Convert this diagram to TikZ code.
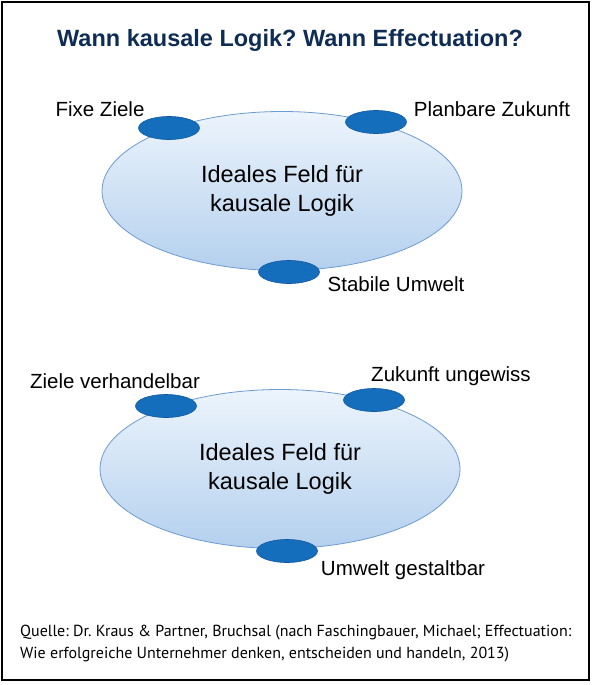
\documentclass[tikz,border=0pt]{standalone}
\usepackage{fontspec}
\setmainfont{Liberation Sans}
\newfontfamily\quellefont{PT Sans}
\usetikzlibrary{shapes.geometric}

\definecolor{titelblau}{RGB}{14,44,84}
\definecolor{feldrand}{RGB}{110,155,210}
\definecolor{feldhell}{RGB}{236,244,252}
\definecolor{feldmittel}{RGB}{180,208,238}
\definecolor{punktblau}{RGB}{21,110,188}
\definecolor{punktrand}{RGB}{16,88,160}

\tikzset{
  feld/.style={ellipse, draw=feldrand, line width=0.8pt, top color=feldhell, bottom color=feldmittel,
    minimum width=360pt, minimum height=159pt, inner sep=0pt, align=center,
    font=\fontsize{23.5}{29}\selectfont},
  punkt/.style={ellipse, draw=punktrand, line width=0.6pt, fill=punktblau,
    minimum width=61pt, minimum height=23pt, inner sep=0pt},
  etikett/.style={font=\fontsize{20.5}{24}\selectfont, inner sep=0pt}
}

\frenchspacing
\begin{document}
\begin{tikzpicture}[x=1pt, y=-1pt]
  \useasboundingbox (0,0) rectangle (594,685);
  \draw[line width=1.6pt] (2,2) rectangle (589,680);

  % Titel
  \node[text=titelblau, font=\fontsize{23.5}{28}\selectfont\bfseries] (titel) at (290,40) {Wann kausale Logik? Wann Effectuation?};

  % oben: kausale Logik
  \begin{scope}[shift={(0,0)}]
    \node[feld] (feldA) at (282,191) {Ideales Feld für\\kausale Logik};
    \node[punkt] (zieleA) at (169,128) {};
    \node[punkt] (zukunftA) at (376,122) {};
    \node[punkt] (umweltA) at (289,272) {};
    \node[etikett] (lzieleA) at (100,109) {Fixe Ziele};
    \node[etikett] (lzukunftA) at (492,109) {Planbare Zukunft};
    \node[etikett] (lumweltA) at (396,284) {Stabile Umwelt};
  \end{scope}

  % unten: Effectuation
  \begin{scope}[shift={(0,0)}]
    \node[feld] (feldB) at (280,469) {Ideales Feld für\\kausale Logik};
    \node[punkt] (zieleB) at (166,406) {};
    \node[punkt] (zukunftB) at (374,400) {};
    \node[punkt] (umweltB) at (287,551) {};
    \node[etikett] (lzieleB) at (115,381) {Ziele verhandelbar};
    \node[etikett] (lzukunftB) at (451,376) {Zukunft ungewiss};
    \node[etikett] (lumweltB) at (403,570) {Umwelt gestaltbar};
  \end{scope}

  % Quelle
  \node[anchor=west, align=left, inner sep=0pt, font=\quellefont\fontsize{16}{22}\selectfont] (quelle) at (20,644)
    {Quelle: Dr. Kraus \& Partner, Bruchsal (nach Faschingbauer, Michael; Effectuation:\\Wie erfolgreiche Unternehmer denken, entscheiden und handeln, 2013)};
\end{tikzpicture}
\end{document}
